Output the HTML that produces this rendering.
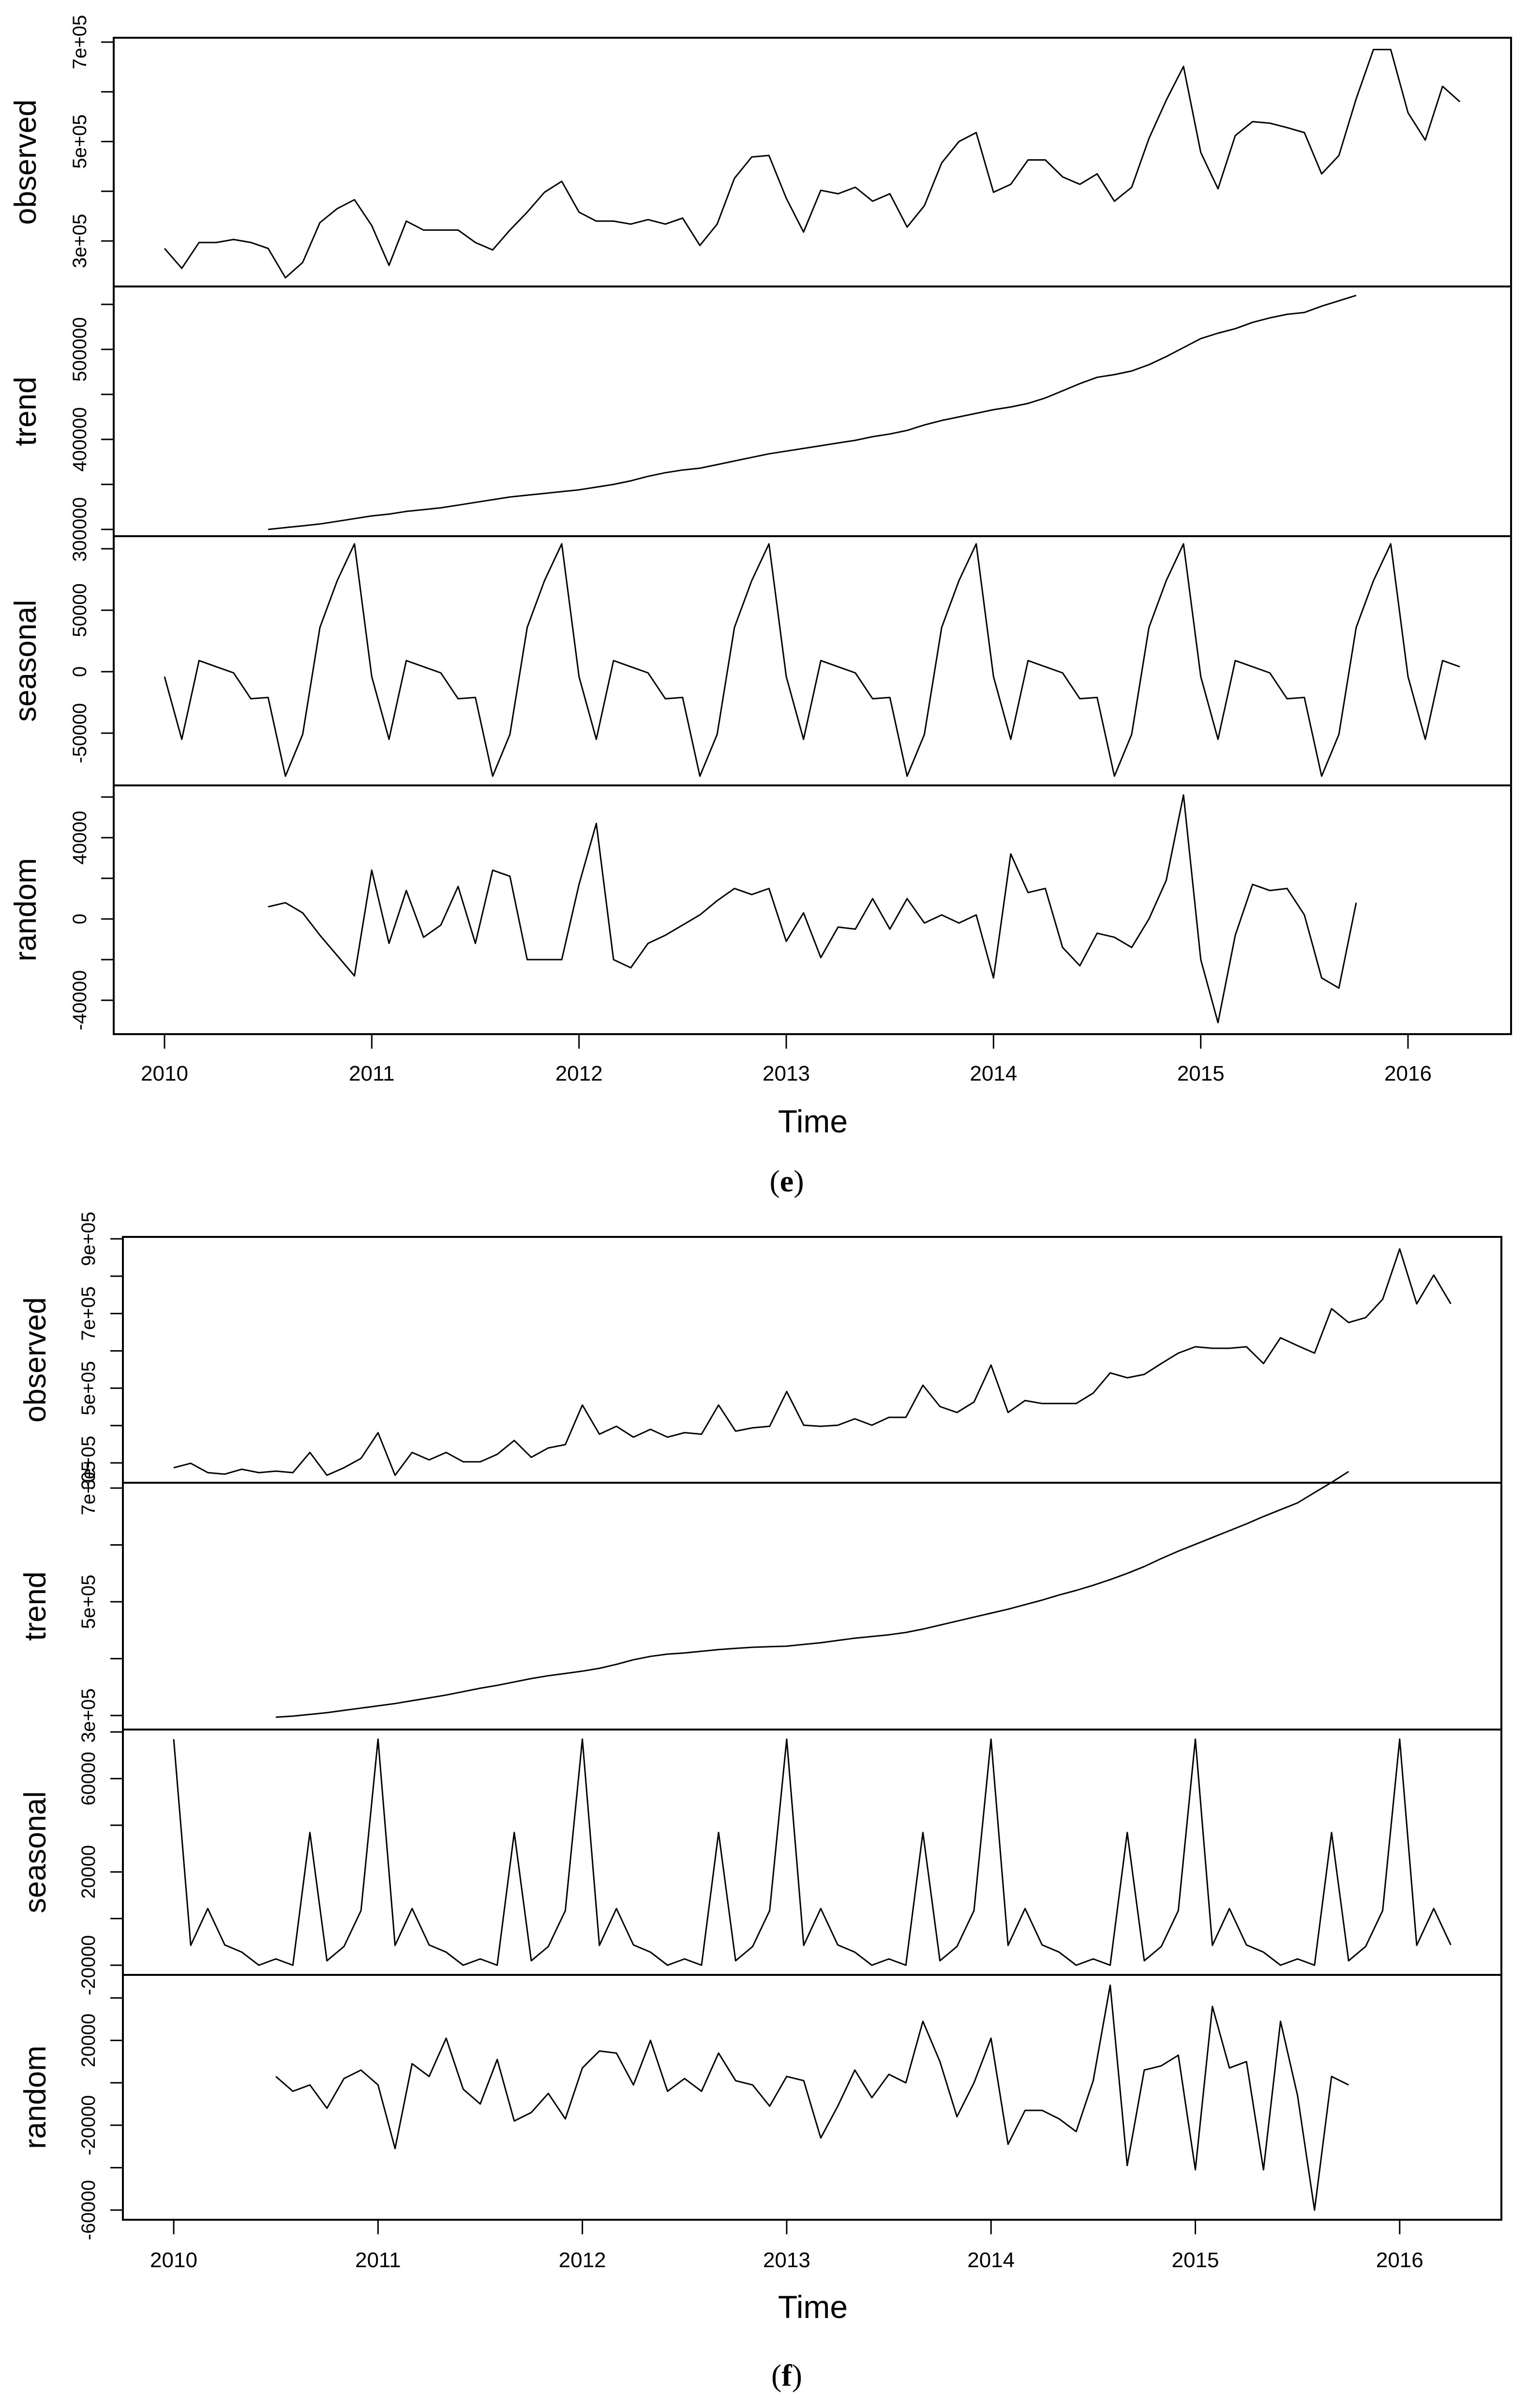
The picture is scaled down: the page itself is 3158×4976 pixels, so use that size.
<!DOCTYPE html>
<html><head><meta charset="utf-8">
<style>
html,body{margin:0;padding:0;background:#fff;}
svg{display:block;}
text{font-family:"Liberation Sans",sans-serif;fill:#000;}
</style></head>
<body>
<svg id="chart" width="3158" height="4976" viewBox="0 0 3158 4976" xmlns="http://www.w3.org/2000/svg"></svg>
<script>
// ---- data (values in thousands) ----
const yearTicks = [2010,2011,2012,2013,2014,2015,2016];
const obsE = [285,245,297,297,303,297,285,226,257,337,365,383,331,251,340,322,322,322,297,282,322,358,398,420,358,340,340,334,343,334,346,291,334,426,469,472,386,318,402,395,408,380,395,328,371,457,500,518,398,414,463,463,429,414,435,380,408,506,583,651,478,405,512,540,537,528,518,435,472,586,685,685,558,503,611,580];
const trendE = [300,302,304,306,309,312,315,317,320,322,324,327,330,333,336,338,340,342,344,347,350,354,359,363,366,368,372,376,380,384,387,390,393,396,399,403,406,410,416,421,425,429,433,436,440,446,454,462,469,472,476,483,492,502,512,518,523,530,535,539,541,548,554,560];
const seasE = [-4,-55,9,4,-1,-22,-21,-85,-51,36,74,104];
const randE = [6,8,3,-8,-18,-28,24,-12,14,-9,-3,16,-12,24,21,-20,-20,-20,17,47,-20,-24,-12,-8,-3,2,9,15,12,15,-11,3,-19,-4,-5,10,-5,10,-2,2,-2,2,-29,32,13,15,-14,-23,-7,-9,-14,0,19,61,-20,-51,-8,17,14,15,2,-29,-34,8];
const obsF = [287,299,274,270,283,274,278,274,328,267,287,312,381,267,328,308,328,303,303,323,360,315,340,349,455,377,398,369,390,369,381,377,455,385,394,398,491,401,398,401,418,401,422,422,508,451,435,463,562,435,467,459,459,459,487,541,528,537,566,594,611,607,607,611,566,635,614,594,713,676,689,738,873,726,803,726];
const trendF = [297,299,302,305,309,313,317,321,326,331,336,342,348,353,359,365,370,374,378,383,390,398,404,408,410,413,416,418,420,421,422,425,428,432,436,439,442,446,452,459,466,473,480,487,495,503,512,520,529,539,550,562,576,589,601,613,625,637,650,662,674,692,710,729];
const seasF = [76.9,-11.5,4.3,-11.3,-14.4,-20,-17.3,-20,36.9,-18.1,-12,3.4];
const randF = [3,-4,-1,-12,2,6,-1,-31,9,3,21,-3,-10,11,-18,-14,-5,-17,7,15,14,-1,20,-4,2,-4,14,1,-1,-11,3,1,-26,-11,6,-7,4,0,29,10,-16,0,21,-29,-13,-13,-17,-23,1,46,-39,6,8,13,-41,36,7,10,-41,29,-6,-60,3,-1];
// tick values (thousands) and labels
const ticksObsE = [300,400,500,600,700]; const labObsE = {300:"3e+05",500:"5e+05",700:"7e+05"};
const ticksTrendE = [300,350,400,450,500,550]; const labTrendE = {300:"300000",400:"400000",500:"500000"};
const ticksSeasE = [-50,0,50,100]; const labSeasE = {"-50":"-50000","0":"0","50":"50000"};
const ticksRandE = [-40,-20,0,20,40,60]; const labRandE = {"-40":"-40000","0":"0","40":"40000"};
const ticksObsF = [300,400,500,600,700,800,900]; const labObsF = {300:"3e+05",500:"5e+05",700:"7e+05",900:"9e+05"};
const ticksTrendF = [300,400,500,600,700]; const labTrendF = {300:"3e+05",500:"5e+05",700:"7e+05"};
const ticksSeasF = [-20,0,20,40,60,80]; const labSeasF = {"-20":"-20000","20":"20000","60":"60000"};
const ticksRandF = [-60,-40,-20,0,20,40]; const labRandF = {"-60":"-60000","-20":"-20000","20":"20000"};

const NS = "http://www.w3.org/2000/svg";
const svg = document.getElementById("chart");
function mk(tag, attrs, parent){ const e = document.createElementNS(NS, tag); for (const k in attrs) e.setAttribute(k, attrs[k]); (parent||svg).appendChild(e); return e; }

function drawPanel(fig, name, x0, x1, y0, y1, yv, vals, start, ticks, labels, tickX, labX, ylabX, xOf){
  const g = mk("g", {});
  
  
  const frame = mk("rect", {x:x0, y:y0, width:x1-x0, height:y1-y0, fill:"none", stroke:"#000", "stroke-width":4}, g);
  
  
  ticks.forEach(t => {
    const y = yv(t);
    const tk = mk("line", {x1:tickX, x2:x0, y1:y, y2:y, stroke:"#000", "stroke-width":3}, g);
    
    
    if (labels[t] !== undefined) {
      const tx = mk("text", {x:0, y:0, "font-size":40, "text-anchor":"middle", transform:`translate(${labX},${y}) rotate(-90)`}, g);
      tx.textContent = labels[t];
      
      
    }
  });
  const yl = mk("text", {x:0, y:0, "font-size":63, "text-anchor":"middle", transform:`translate(${ylabX},${(y0+y1)/2}) rotate(-90)`}, g);
  yl.textContent = name;
  
  
  const pts = vals.map((v,i) => xOf(start + i).toFixed(1) + "," + yv(v).toFixed(1)).join(" ");
  const pl = mk("polyline", {points:pts, fill:"none", stroke:"#000", "stroke-width":3, "stroke-linejoin":"round"}, g);
  
  
}
function linScale(v0, p0, v1, p1){ return v => p0 + (v - v0) * (p1 - p0) / (v1 - v0); }
function repeatSeason(arr, n){ const out = []; for (let i = 0; i < n; i++) out.push(arr[i % 12]); return out; }

// ---- figure e ----
const xE = i => 340 + i * 428.33 / 12;
const E = {x0:235, x1:3123, tickX:209, labX:178, ylabX:74};
drawPanel("e","observed",E.x0,E.x1,78,592, linScale(300,498,700,87), obsE, 0, ticksObsE, labObsE, E.tickX,E.labX,E.ylabX,xE);
drawPanel("e","trend",E.x0,E.x1,592,1108, linScale(300,1094,500,722), trendE, 6, ticksTrendE, labTrendE, E.tickX,E.labX,E.ylabX,xE);
drawPanel("e","seasonal",E.x0,E.x1,1108,1623, linScale(0,1388,50,1261), repeatSeason(seasE,76), 0, ticksSeasE, labSeasE, E.tickX,E.labX,E.ylabX,xE);
drawPanel("e","random",E.x0,E.x1,1623,2137, linScale(0,1899,40,1731), randE, 6, ticksRandE, labRandE, E.tickX,E.labX,E.ylabX,xE);

// ---- figure f ----
const xF = i => 359 + i * 422.3 / 12;
const F = {x0:254, x1:3103, tickX:228, labX:196, ylabX:94};
drawPanel("f","observed",F.x0,F.x1,2556,3064, linScale(300,3023,900,2560), obsF, 0, ticksObsF, labObsF, F.tickX,F.labX,F.ylabX,xF);
drawPanel("f","trend",F.x0,F.x1,3064,3574, linScale(300,3545,700,3075), trendF, 6, ticksTrendF, labTrendF, F.tickX,F.labX,F.ylabX,xF);
drawPanel("f","seasonal",F.x0,F.x1,3574,4081, linScale(-20,4061,80,3579), repeatSeason(seasF,76), 0, ticksSeasF, labSeasF, F.tickX,F.labX,F.ylabX,xF);
drawPanel("f","random",F.x0,F.x1,4081,4587, linScale(0,4304,-60,4567), randF, 6, ticksRandF, labRandF, F.tickX,F.labX,F.ylabX,xF);

// ---- x axes ----
function xAxis(fig, xOf, yBottom, labY, timeY, capY, capLetter){
  yearTicks.forEach(yr => {
    const x = xOf((yr - 2010) * 12);
    const t = mk("line", {x1:x, x2:x, y1:yBottom, y2:yBottom+30, stroke:"#000", "stroke-width":3});
    
    
    const l = mk("text", {x:x, y:labY, "font-size":44, "text-anchor":"middle"});
    l.textContent = yr;
    
    
  });
  const tt = mk("text", {x:1680, y:timeY, "font-size":66, "text-anchor":"middle"});
  tt.textContent = "Time";
  
  
  const cap = mk("text", {x:1626, y:capY, "font-size":64, "text-anchor":"middle", style:"font-family:'Liberation Serif',serif"});
  cap.innerHTML = "(<tspan font-weight='bold'>" + capLetter + "</tspan>)";
  
  
}
xAxis("e", xE, 2137, 2233, 2340, 2462, "e");
xAxis("f", xF, 4587, 4685, 4790, 4930, "f");
</script>
</body></html>
